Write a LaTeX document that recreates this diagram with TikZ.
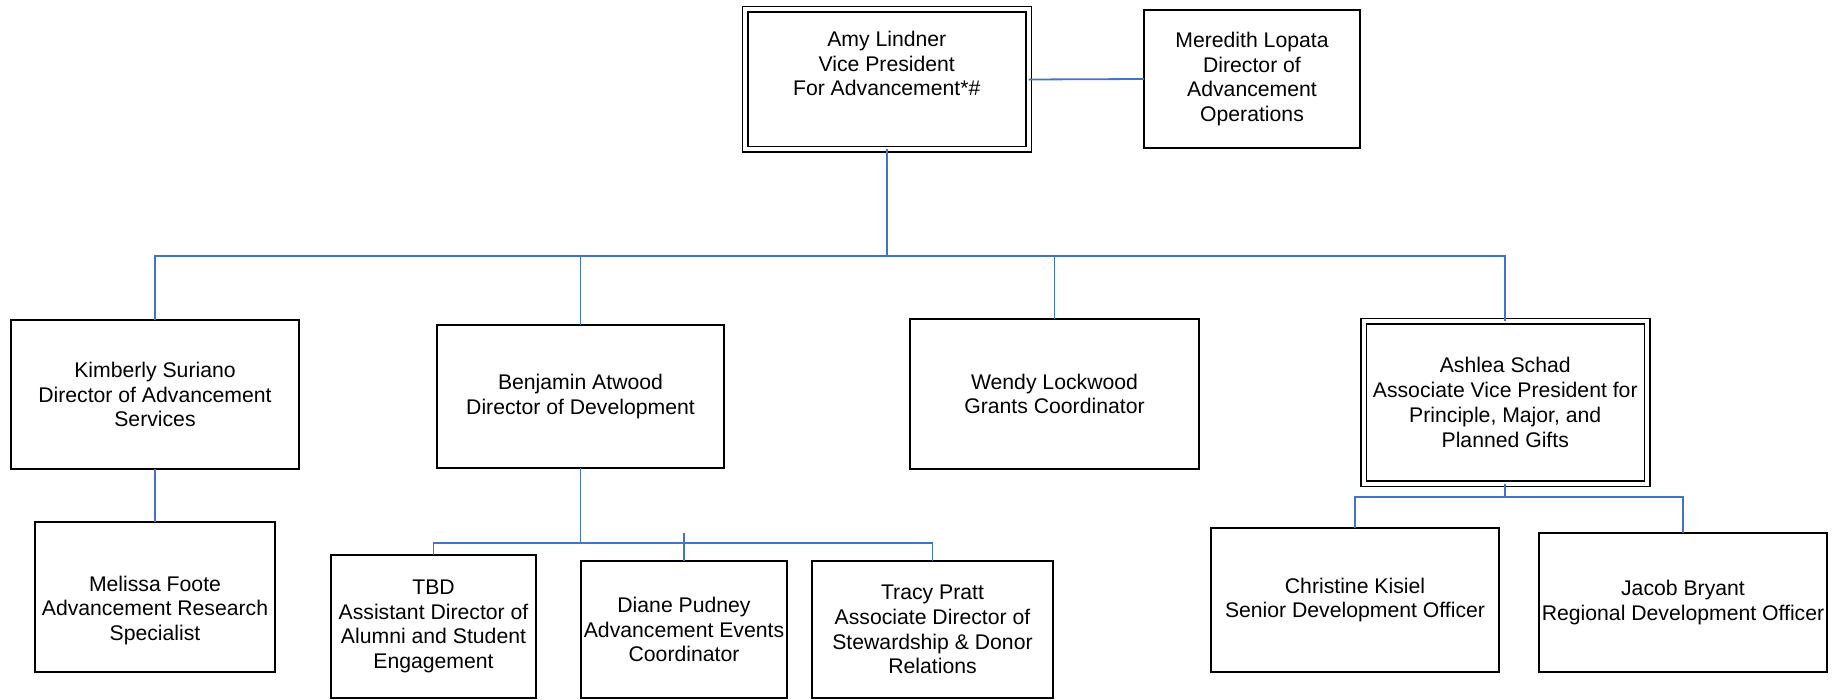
\documentclass[tikz,border=0pt]{standalone}
\usepackage{fontspec}
\setmainfont{Liberation Sans}
\definecolor{lineblue}{RGB}{68,114,196}
\begin{document}
\begin{tikzpicture}[x=0.5pt,y=-0.5pt,
  box/.style={draw=black, line width=1.1pt, rectangle, inner sep=0pt, outer sep=0pt,
    align=center, font=\fontsize{10.6}{12.4}\selectfont},
  dbox/.style={box, line width=0.75pt, double, double distance=2pt},
  conn/.style={draw=lineblue, line width=0.9pt}]
\useasboundingbox (0,0) rectangle (1843,700);

% top level
\node[dbox, minimum width=141.75pt, minimum height=70pt] (amy) at (886.75,79.5)
  {Amy Lindner\\Vice President\\For Advancement*\#\\\strut};
\node[box, minimum width=108pt, minimum height=69pt] (mer) at (1252,79)
  {Meredith Lopata\\Director of\\Advancement\\Operations};

% second level
\node[box, minimum width=144pt, minimum height=74.5pt] (kim) at (155,394.5)
  {Kimberly Suriano\\Director of Advancement\\Services};
\node[box, minimum width=143.5pt, minimum height=71.5pt] (ben) at (580.5,396.5)
  {Benjamin Atwood\\Director of Development};
\node[box, minimum width=144.5pt, minimum height=75pt] (wen) at (1054.5,394)
  {Wendy Lockwood\\Grants Coordinator};
\node[dbox, minimum width=141.75pt, minimum height=81pt] (ash) at (1505.25,402.5)
  {Ashlea Schad\\Associate Vice President for\\Principle, Major, and\\Planned Gifts};

% third level
\node[box, minimum width=120pt, minimum height=75pt] (mel) at (155,597)
  {\strut\\Melissa Foote\\Advancement Research\\Specialist};
\node[box, minimum width=102.5pt, minimum height=71.5pt] (tbd) at (433.5,626.5)
  {TBD\\Assistant Director of\\Alumni and Student\\Engagement};
\node[box, minimum width=103pt, minimum height=68.5pt] (dia) at (684,629.5)
  {Diane Pudney\\Advancement Events\\Coordinator};
\node[box, minimum width=120.5pt, minimum height=68.5pt] (tra) at (932.5,629.5)
  {Tracy Pratt\\Associate Director of\\Stewardship \& Donor\\Relations};
\node[box, minimum width=144pt, minimum height=72pt] (chr) at (1355,600)
  {Christine Kisiel\\Senior Development Officer};
\node[box, minimum width=144pt, minimum height=69.5pt] (jac) at (1683,602.5)
  {Jacob Bryant\\Regional Development Officer};

% connectors
\coordinate (busA) at (886.75,256);
\coordinate (busB) at (580.5,543);
\coordinate (busC) at (1505.25,497);
\coordinate (dtop) at (684,533);

\draw[conn] (amy.east) -- (mer.west);
\draw[conn] (amy.south) -- (busA);
\draw[conn] (kim.north) |- (busA) -| (ash.north);
\draw[conn] (ben.north) -- (ben.north |- busA);
\draw[conn] (wen.north) -- (wen.north |- busA);

\draw[conn] (kim.south) -- (mel.north);

\draw[conn] (ben.south) -- (busB);
\draw[conn] (tbd.north) |- (busB) -| (tra.north);
\draw[conn] (dtop) -- (dia.north);

\draw[conn] (ash.south) -- (busC);
\draw[conn] (chr.north) |- (busC) -| (jac.north);
\end{tikzpicture}
\end{document}
